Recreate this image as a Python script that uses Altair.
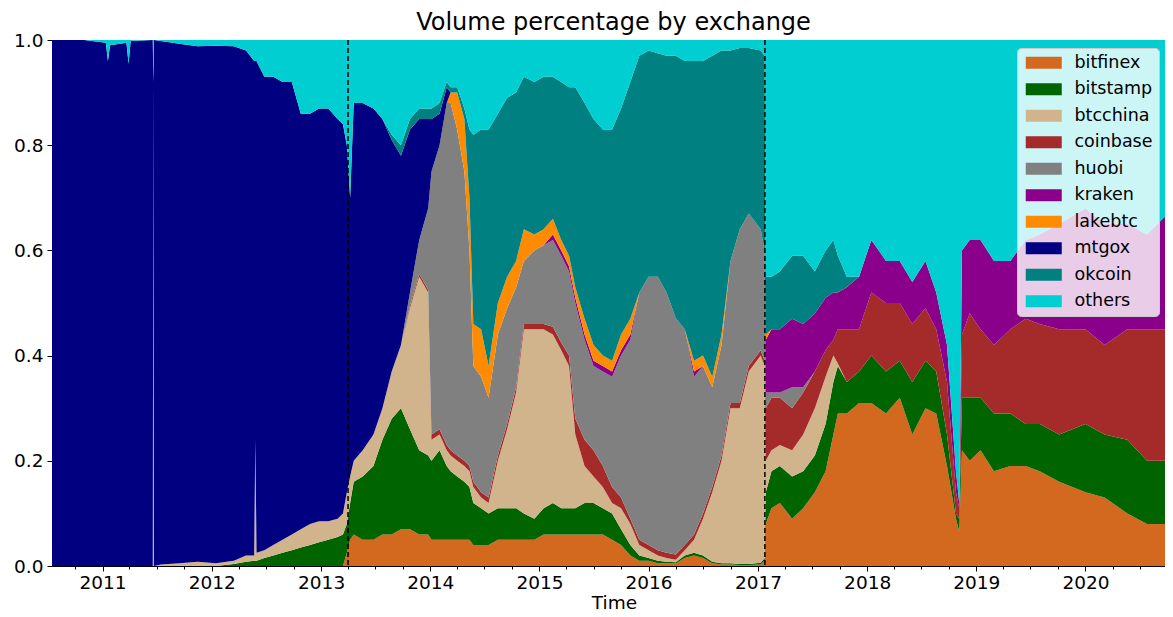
import altair as alt
import pandas as pd

dates = [
    "2010-07-16", "2010-11-01", "2011-01-12", "2011-01-19", "2011-01-26", "2011-03-22", "2011-03-29", "2011-04-05", "2011-06-18", "2011-06-20",
    "2011-06-22", "2011-07-15", "2011-09-15", "2011-11-15", "2012-01-15", "2012-03-15", "2012-04-25", "2012-05-22", "2012-05-26", "2012-05-30",
    "2012-06-25", "2012-07-25", "2012-08-25", "2012-09-25", "2012-10-25", "2012-11-25", "2012-12-25", "2013-01-25", "2013-02-25", "2013-03-15",
    "2013-03-28", "2013-04-08", "2013-04-20", "2013-05-20", "2013-06-25", "2013-07-25", "2013-08-25", "2013-09-25", "2013-10-25", "2013-11-25",
    "2013-12-25", "2014-01-05", "2014-02-01", "2014-02-25", "2014-03-10", "2014-04-01", "2014-04-25", "2014-05-12", "2014-05-25", "2014-06-20",
    "2014-07-15", "2014-08-15", "2014-09-15", "2014-10-15", "2014-11-10", "2014-12-15", "2015-01-15", "2015-02-15", "2015-03-15", "2015-04-10",
    "2015-05-01", "2015-06-01", "2015-07-01", "2015-08-01", "2015-09-01", "2015-10-01", "2015-11-01", "2015-12-01", "2016-01-01", "2016-02-01",
    "2016-03-01", "2016-04-01", "2016-05-01", "2016-06-01", "2016-07-01", "2016-08-01", "2016-09-01", "2016-10-01", "2016-11-01", "2016-12-01",
    "2017-01-10", "2017-01-23", "2017-01-27", "2017-02-15", "2017-03-15", "2017-04-25", "2017-06-01", "2017-07-10", "2017-08-15", "2017-09-10",
    "2017-09-25", "2017-10-25", "2017-12-05", "2018-01-15", "2018-03-05", "2018-04-20", "2018-06-01", "2018-07-15", "2018-08-20", "2018-09-25",
    "2018-10-25", "2018-11-05", "2018-11-14", "2018-12-10", "2019-01-15", "2019-03-01", "2019-04-25", "2019-06-15", "2019-08-01", "2019-10-05",
    "2020-01-01", "2020-03-05", "2020-05-20", "2020-07-25", "2020-10-20",
]

bitfinex = [
    0, 0, 0, 0, 0, 0, 0, 0, 0, 0,
    0, 0, 0, 0, 0, 0, 0, 0, 0, 0,
    0, 0, 0, 0, 0, 0, 0, 0, 0, 0,
    2.5, 5, 6, 5, 5, 6, 6, 7, 7, 6,
    6, 5, 5, 5, 5, 5, 5, 5, 4, 4,
    4, 5, 5, 5, 5, 5, 6, 6, 6, 6,
    6, 6, 6, 6, 5, 4, 2, 1, 1, 0.5,
    0.5, 0.5, 1.5, 2, 1.5, 0.5, 0.3, 0.3, 0.2, 0.2,
    0.3, 1, 8, 11, 12, 9, 11, 14, 18, 25,
    29, 29, 31, 31, 29, 32, 25, 30, 29, 19,
    9, 6.5, 22, 20, 22, 18, 19, 19, 18, 16,
    14, 13, 10, 8, 8,
]

bitstamp = [
    0, 0, 0, 0, 0, 0, 0, 0, 0, 0,
    0, 0, 0, 0, 0, 0.4, 0.8, 1, 1, 1,
    1.5, 2, 2.5, 3, 3.5, 4, 4.5, 5, 5.5, 6,
    5.5, 7, 10, 12, 14, 18, 22, 23, 19, 16,
    15, 15, 17, 14, 13, 12, 11, 10, 8, 7,
    6, 6, 6, 6, 5, 4, 5, 6, 5, 5,
    5, 6, 6, 5, 5, 3, 2, 1, 0.5, 0.5,
    0.3, 0.2, 0.5, 0.5, 0.5, 0.3, 0.2, 0.2, 0.2, 0.2,
    0.3, 0.5, 6, 7, 7, 8, 7, 7, 9, 10,
    9, 6, 6, 9, 8, 7, 10, 9, 8, 6,
    1, 2.5, 10, 12, 10, 11, 10, 8, 9, 9,
    13, 12, 14, 12, 12,
]

btcchina = [
    0, 0, 0, 0, 0, 0, 0, 0, 0, 92,
    0, 0.3, 0.5, 0.8, 0.5, 0.6, 1.2, 1, 23, 1.5,
    1.5, 2, 2.5, 3, 3.5, 4, 4, 3.5, 3.5, 4,
    6, 5, 4, 5, 6, 6, 9, 12, 23, 33,
    31, 4, 3, 3, 3, 3, 3, 3, 3, 2,
    2, 9, 15, 22, 35, 36, 34, 32, 30, 27,
    14, 7, 5, 4, 2, 4, 4, 2, 1.5, 1,
    0.7, 0.5, 1, 2.5, 7, 13.2, 19.5, 29.5, 29.6, 36.6,
    39.4, 36.5, 6, 4, 4, 5, 7, 9, 9, 5,
    0.5, 0, 0, 0, 0, 0, 0, 0, 0, 0,
    0, 0, 0, 0, 0, 0, 0, 0, 0, 0,
    0, 0, 0, 0, 0,
]

coinbase = [
    0, 0, 0, 0, 0, 0, 0, 0, 0, 0,
    0, 0, 0, 0, 0, 0, 0, 0, 0, 0,
    0, 0, 0, 0, 0, 0, 0, 0, 0, 0,
    0, 0, 0, 0, 0, 0, 0, 0, 0.5, 0.5,
    0.5, 1, 1, 1, 1, 1, 1, 1, 1, 1,
    1, 1, 1, 1, 1, 1, 1, 1.5, 1.5, 2,
    3, 5, 5, 4, 3, 2, 1, 1, 1, 1,
    1, 1, 1, 1, 1, 1, 1, 1, 1, 1,
    1, 1, 10, 10, 9, 8, 8, 7, 5, 3,
    6.5, 10, 8, 12, 13, 11, 11, 10, 8, 10,
    4, 2, 12, 16, 13, 13, 16, 20, 19, 20,
    18, 17, 21, 25, 25,
]

huobi = [
    0, 0, 0, 0, 0, 0, 0, 0, 0, 0,
    0, 0, 0, 0, 0, 0, 0, 0, 0, 0,
    0, 0, 0, 0, 0, 0, 0, 0, 0, 0,
    0, 0, 0, 0, 0, 0, 0, 0, 2.5, 6.5,
    15.5, 50, 54, 65, 66, 62, 55, 41, 22, 22,
    19, 23, 22, 19, 12, 14, 15, 16.5, 16.5, 16,
    22, 19, 16, 18, 21, 27, 34, 47, 51, 52,
    49.5, 45, 41, 30, 28, 19, 21, 27, 33, 29,
    23, 21, 3, 1, 1, 4, 1, 0, 0, 0,
    0, 0, 0, 0, 0, 0, 0, 0, 0, 0,
    0, 0, 0, 0, 0, 0, 0, 0, 0, 0,
    0, 0, 0, 0, 0,
]

kraken = [
    0, 0, 0, 0, 0, 0, 0, 0, 0, 0,
    0, 0, 0, 0, 0, 0, 0, 0, 0, 0,
    0, 0, 0, 0, 0, 0, 0, 0, 0, 0,
    0, 0, 0, 0, 0, 0, 0, 0, 0, 0,
    0, 0, 0, 0, 0, 0, 0, 0, 0, 0,
    0, 0, 0, 0, 0, 0, 0, 1, 1, 1,
    1, 1, 1, 1, 1, 1, 1, 0, 0, 0,
    0, 0, 0, 1, 0, 0, 0, 0, 0, 0,
    0, 0, 10, 12, 12, 13, 12, 11, 10, 9,
    7, 8, 10, 10, 8, 8, 8, 9, 7, 7,
    4, 1, 16, 14, 17, 16, 13, 15, 17, 20,
    23, 23, 20, 18, 23,
]

lakebtc = [
    0, 0, 0, 0, 0, 0, 0, 0, 0, 0,
    0, 0, 0, 0, 0, 0, 0, 0, 0, 0,
    0, 0, 0, 0, 0, 0, 0, 0, 0, 0,
    0, 0, 0, 0, 0, 0, 0, 0, 0, 0,
    0, 0, 0, 0, 2, 7, 10, 10, 8, 9,
    6, 6, 6, 5, 6, 3, 3, 3, 2, 2,
    2, 3, 3, 2, 2, 3, 3, 0, 0, 0,
    0, 0, 0, 2, 2, 2, 2, 0, 0, 0,
    0, 0, 1, 0, 0, 0, 0, 0, 0, 0,
    0, 0, 0, 0, 0, 0, 0, 0, 0, 0,
    0, 0, 0, 0, 0, 0, 0, 0, 0, 0,
    0, 0, 0, 0, 0,
]

mtgox = [
    100, 100, 99.5, 96, 99, 99.5, 95.5, 99.8, 100, 0,
    100, 99.5, 98.8, 98, 98.4, 97.8, 96, 94, 72, 93.5,
    90, 89, 87, 86, 79, 78, 78.5, 78.5, 76, 74,
    66, 53, 68, 66, 62, 55, 44, 36, 31, 23,
    17, 10, 6, 3, 0, 0, 0, 0, 0, 0,
    0, 0, 0, 0, 0, 0, 0, 0, 0, 0,
    0, 0, 0, 0, 0, 0, 0, 0, 0, 0,
    0, 0, 0, 0, 0, 0, 0, 0, 0, 0,
    0, 0, 0, 0, 0, 0, 0, 0, 0, 0,
    0, 0, 0, 0, 0, 0, 0, 0, 0, 0,
    0, 0, 0, 0, 0, 0, 0, 0, 0, 0,
    0, 0, 0, 0, 0,
]

okcoin = [
    0, 0, 0, 0, 0, 0, 0, 0, 0, 0,
    0, 0, 0, 0, 0, 0, 0, 0, 0, 0,
    0, 0, 0, 0, 0, 0, 0, 0, 0, 0,
    0, 0, 0, 0, 0, 0, 1, 2, 2, 2,
    2, 2, 2, 1, 1, 1, 2, 13, 36, 38,
    45, 36, 34, 32, 29, 29, 29, 27, 30, 32,
    38, 41, 43, 43, 44, 43, 45, 45, 43, 42.5,
    45, 50, 51, 57, 56, 61, 54, 40, 34.5, 31.5,
    34, 37, 11, 10, 11, 12, 13, 8, 9, 10,
    7, 2, 0, 0, 0, 0, 0, 0, 0, 0,
    0, 0, 0, 0, 0, 0, 0, 0, 0, 0,
    0, 0, 0, 0, 0,
]

others = [
    0, 0, 0.5, 4, 1, 0.5, 4.5, 0.2, 0, 8,
    0, 0.2, 0.7, 1.2, 1.1, 1.2, 2, 4, 4, 4,
    7, 7, 8, 8, 14, 14, 13, 13, 15, 16,
    20, 30, 12, 12, 13, 15, 18, 20, 15, 13,
    13, 13, 12, 8, 9, 9, 13, 17, 18, 17,
    17, 14, 11, 10, 7, 8, 7, 7, 8, 9,
    9, 12, 15, 17, 17, 13, 8, 3, 2, 2.5,
    3, 3, 4, 4, 4, 3, 2, 2, 1.5, 1.5,
    2, 3, 45, 45, 44, 41, 41, 44, 40, 38,
    41, 45, 45, 38, 42, 42, 46, 42, 48, 58,
    82, 88, 40, 38, 38, 42, 42, 38, 37, 35,
    32, 35, 35, 37, 32,
]

names = ["bitfinex", "bitstamp", "btcchina", "coinbase", "huobi",
         "kraken", "lakebtc", "mtgox", "okcoin", "others"]
colors = ["#d2691e", "#006400", "#d2b48c", "#a52a2a", "#808080",
          "#8b008b", "#ff8c00", "#000080", "#008080", "#00ced1"]
events = ["2013-04-01", "2017-01-24"]
y_ticks = [0.0, 0.2, 0.4, 0.6, 0.8, 1.0]
chart_title = "Volume percentage by exchange"

series = dict(zip(names, [bitfinex, bitstamp, btcchina, coinbase, huobi,
                          kraken, lakebtc, mtgox, okcoin, others]))
rows = []
for k, name in enumerate(names):
    for d, v in zip(dates, series[name]):
        rows.append({"date": d, "exchange": name, "share": v, "rank": k})
df = pd.DataFrame(rows)

quarter_ticks = [
    alt.DateTime(year=y, month=m, date=1, utc=True)
    for y in range(2010, 2021) for m in (1, 4, 7, 10)
    if (2010, 10) <= (y, m) <= (2020, 7)
]

FONT = "DejaVu Sans"

x_enc = alt.X(
    "date:T",
    scale=alt.Scale(type="utc", domain=[
        alt.DateTime(year=2010, month=7, date=16, utc=True),
        alt.DateTime(year=2020, month=9, date=23, utc=True),
    ]),
    axis=alt.Axis(
        values=quarter_ticks,
        labelExpr="utcmonth(datum.value) == 0 ? utcFormat(datum.value, '%Y') : ''",
        tickSize={"condition": {"test": "utcmonth(datum.value) != 0", "value": 3}, "value": 5},
        title="Time", titleFontSize=18.5, titleFontWeight="normal", titleColor="black",
        titlePadding=2, titleX=562,
        labelFontSize=18.5, labelColor="black", labelPadding=2, labelFlush=False,
        labelOverlap=False, grid=False, domainColor="black", tickColor="black",
        domainWidth=1, tickWidth=1,
    ),
)

area = alt.Chart(df).transform_joinaggregate(
    total="sum(share)", groupby=["date"]
).transform_calculate(
    frac="datum.share / datum.total"
).mark_area(interpolate="linear", opacity=1, clip=True).encode(
    x=x_enc,
    y=alt.Y(
        "frac:Q", stack="zero",
        scale=alt.Scale(domain=[0, 1], nice=False),
        axis=alt.Axis(values=y_ticks, format=".1f", tickSize=5, title=None,
                      labelFontSize=18.5, labelColor="black", labelPadding=4,
                      grid=False, domainColor="black", tickColor="black",
                      domainWidth=1, tickWidth=1),
    ),
    color=alt.Color(
        "exchange:N",
        scale=alt.Scale(domain=names, range=colors),
        legend=alt.Legend(
            title=None, orient="none", legendX=965, legendY=8,
            symbolType="M-1,-1H5V1H-1Z", symbolSize=144,
            symbolStrokeWidth=0, symbolOpacity=1,
            labelFontSize=17.5, labelColor="black", labelOffset=34, labelLimit=300,
            rowPadding=7.5, padding=6,
            fillColor="rgba(255,255,255,0.8)", strokeColor="#cccccc",
            cornerRadius=4,
        ),
    ),
    order=alt.Order("rank:Q", sort="ascending"),
)

rules = alt.Chart(pd.DataFrame({"date": events})).mark_rule(
    color="black", strokeDash=[5, 3], strokeWidth=1.5
).encode(x=x_enc)

chart = alt.layer(area, rules).properties(
    width=1113, height=526,
    title=alt.TitleParams(chart_title, fontSize=24, fontWeight="normal",
                          color="black", offset=-4, dx=5, font=FONT),
    padding={"left": 44, "top": 32, "right": 0, "bottom": 50},
    autosize=alt.AutoSizeParams(type="none"),
).configure(font=FONT).configure_view(stroke=None)

chart.save("out.html", embed_options={"renderer": "svg", "actions": False})
